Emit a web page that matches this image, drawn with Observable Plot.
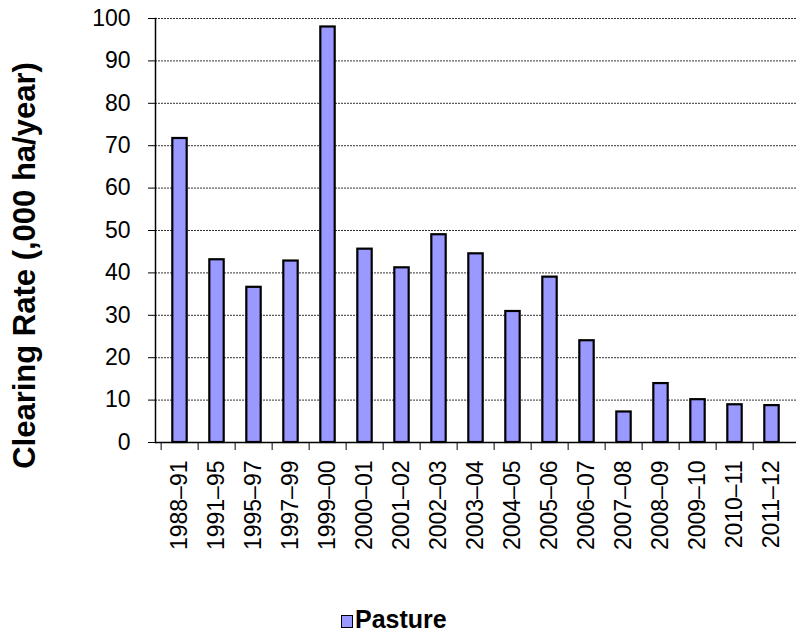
<!DOCTYPE html>
<html>
<head>
<meta charset="utf-8">
<script src="https://cdn.jsdelivr.net/npm/d3@7"></script>
<script src="https://cdn.jsdelivr.net/npm/@observablehq/plot@0.6"></script>
<style>
  html, body { margin: 0; padding: 0; background: #fff; }
  #wrap { position: relative; width: 797px; height: 636px; font-family: "Liberation Sans", Arial, sans-serif; }
  #legend { position: absolute; left: 341px; top: 606px; font-weight: bold; font-size: 25px; line-height: 1.117; color: #000; white-space: nowrap; }
  #legend .sw { display: inline-block; width: 10px; height: 11px; background: #9999FF; border: 1.5px solid #000; margin-right: 2px; vertical-align: baseline; }
</style>
</head>
<body>
<div id="wrap"></div>
<script>
const periods = ["1988–91","1991–95","1995–97","1997–99","1999–00","2000–01","2001–02","2002–03","2003–04","2004–05","2005–06","2006–07","2007–08","2008–09","2009–10","2010–11","2011–12"];
const pasture = [71.7, 43.1, 36.6, 42.8, 98.0, 45.6, 41.2, 49.0, 44.5, 30.9, 39.0, 24.0, 7.2, 13.9, 10.1, 8.9, 8.7];
const yTicks = [0,10,20,30,40,50,60,70,80,90,100];
const yTitle = ["Clearing Rate (,000 ha/year)"];
const seriesName = "Pasture";

const data = periods.map((p, i) => ({period: p, value: pasture[i]}));

const W = 797, H = 600;
const mL = 155, mR = 1, mT = 18, mB = H - 442;
const step = (W - mL - mR) / periods.length;

const chart = Plot.plot({
  width: W,
  height: H,
  marginLeft: mL,
  marginRight: mR,
  marginTop: mT,
  marginBottom: mB,
  style: {fontFamily: "'Liberation Sans', Arial, sans-serif", color: "#000", background: "#fff"},
  x: {type: "band", domain: periods, padding: 0},
  y: {domain: [0, 100]},
  marks: [
    Plot.ruleY(yTicks.filter(d => d > 0), {stroke: "#000", strokeWidth: 1, strokeDasharray: "2,1", strokeOpacity: 0.8}),
    Plot.barY(data, {x: "period", y: "value", fill: "#9999FF", stroke: "#000", strokeWidth: 2.2, insetLeft: step * 0.3, insetRight: step * 0.3}),
    Plot.axisY({ticks: yTicks, tickSize: 7, tickPadding: 18, fontSize: 23, label: null, strokeWidth: 1}),
    Plot.axisX({tickSize: 8, tickFormat: () => "", dx: -step / 2, label: null}),
    Plot.axisX({tickSize: 0, tickRotate: -90, tickPadding: 18, fontSize: 23, label: null}),
    Plot.ruleY([0], {stroke: "#000", strokeWidth: 1.5}),
    Plot.frame({anchor: "left", stroke: "#000", strokeWidth: 1.5}),
    Plot.text(yTitle, {frameAnchor: "left", textAnchor: "middle", dx: -130, dy: 35, rotate: -90, fontSize: 31, fontWeight: "bold", fill: "#000"})
  ]
});

const wrap = document.getElementById("wrap");
wrap.appendChild(chart);
const lg = document.createElement("div");
lg.id = "legend";
lg.innerHTML = '<span class="sw"></span>' + seriesName;
wrap.appendChild(lg);
</script>
</body>
</html>
